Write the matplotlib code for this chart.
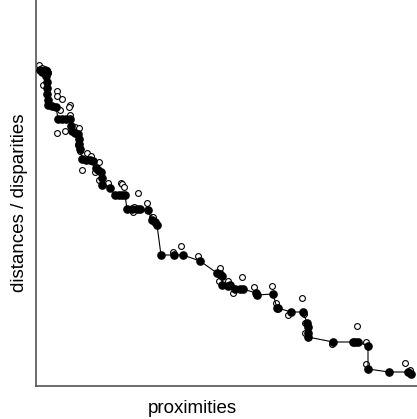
import matplotlib
matplotlib.use("Agg")
import matplotlib.pyplot as plt

# Shepard diagram: open circles = distances, filled circles = disparities
# values (x = proximity, y = distance)

dist_x = [3, 6, 11, 12, 7, 21, 21, 26, 34, 33, 24, 34, 39, 43, 21, 29,
          42, 44, 51, 55, 63, 46, 59, 63, 72, 85, 86, 102, 98, 97, 111, 116,
          137, 145, 162, 184, 183, 192, 197, 206, 218, 236, 240, 252, 266,
          269, 269, 296, 321, 330, 330, 369, 374, 88, 117, 268]
dist_y = [321, 318, 316, 313, 301, 295, 290, 287, 281, 279, 276, 271,
          259, 258, 253, 255, 241, 235, 233, 230, 224, 216, 214, 206, 203,
          203, 202, 193, 179, 174, 183, 169, 134, 140, 130, 118, 105, 105,
          93, 109, 99, 100, 83, 71, 88, 63, 53, 42, 60, 44, 22, 23, 16,
          199, 169, 72]

disp_x = [4, 6, 9, 11, 10, 11, 11, 11, 12, 12, 16, 20, 22, 26, 30, 34,
          35, 36, 39, 42, 43, 43, 44, 46, 50, 54, 57, 60, 62, 65, 66, 66,
          74, 79, 83, 86, 89, 91, 96, 101, 104, 112, 116, 119, 121, 125,
          138, 147, 164, 181, 184, 186, 186, 192, 194, 199, 204, 207, 220,
          221, 237, 241, 242, 255, 267, 271, 272, 272, 272, 297, 317, 319,
          322, 332, 332, 353, 372, 375]
disp_y = [316, 314, 316, 314, 310, 304, 298, 292, 286, 281, 280, 279,
          267, 267, 267, 267, 260, 255, 253, 252, 247, 242, 237, 227, 226,
          226, 225, 218, 216, 214, 208, 201, 198, 191, 191, 191, 191, 177,
          177, 177, 177, 176, 166, 164, 161, 131, 131, 131, 125, 113, 112,
          110, 101, 100, 101, 97, 97, 97, 93, 91, 92, 78, 78, 74, 74, 63,
          59, 53, 49, 44, 44, 44, 44, 40, 17, 14, 14, 12]

fig = plt.figure(figsize=(4.17, 4.19), dpi=100)
ax = fig.add_axes([36 / 417, 33 / 419, 381 / 417, 386 / 419])

ax.plot(disp_x, disp_y, color="black", linewidth=0.8, zorder=2)
ax.plot(dist_x, dist_y, linestyle="none", marker="o", markersize=4.2,
        markerfacecolor="white", markeredgecolor="black",
        markeredgewidth=0.8, zorder=1)
ax.plot(disp_x, disp_y, linestyle="none", marker="o", markersize=5.2,
        color="black", zorder=3)

ax.set_xlim(0, 381)
ax.set_ylim(0, 386)
ax.set_xticks([])
ax.set_yticks([])
for side in ["top", "right"]:
    ax.spines[side].set_visible(False)
for side in ["left", "bottom"]:
    ax.spines[side].set_color("#555555")
    ax.spines[side].set_linewidth(1.2)

fig.text(192 / 417, 1 - 408 / 419, "proximities", ha="center", va="center",
         fontsize=13.5, family="Liberation Sans")
fig.text(20 / 417, 1 - 203 / 419, "distances / disparities", ha="center",
         va="center", rotation=90, fontsize=13.5, family="Liberation Sans")

fig.savefig("out.png", dpi=100)
